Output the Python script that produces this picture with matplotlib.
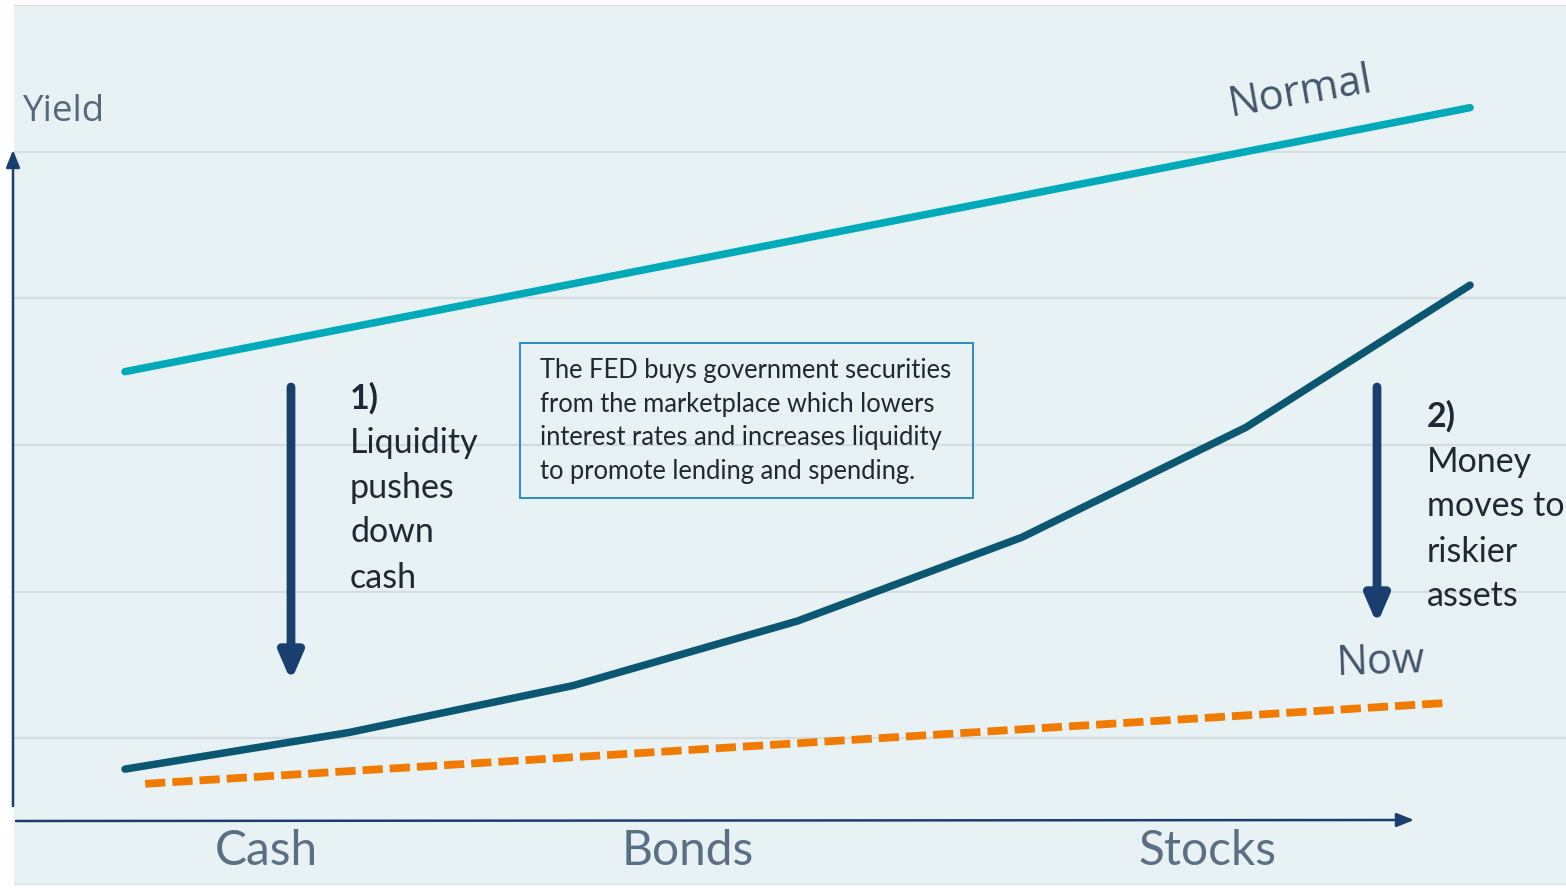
import matplotlib.pyplot as plt
from matplotlib.patches import Rectangle

# yield curve values, one point per step along the risk axis
steps = [0, 1, 2, 3, 4, 5, 6]
normal_yield = [3.50, 3.80, 4.10, 4.40, 4.70, 5.00, 5.30]
qe_yield = [0.79, 1.04, 1.36, 1.80, 2.37, 3.12, 4.09]
now_x = [0.09, 5.88]
now_yield = [0.69, 1.24]

categories = ['Cash', 'Bonds', 'Stocks']
category_pos = [0.63, 2.51, 4.83]

note = ('The FED buys government securities\n'
        'from the marketplace which lowers\n'
        'interest rates and increases liquidity\n'
        'to promote lending and spending.')
step1 = 'Liquidity\npushes\ndown\ncash'
step2 = 'Money\nmoves to\nriskier\nassets'

W, H = 1566, 888
L, R, T, B = 14, 1566, 5, 885

bg = '#e8f1f4'
grid_c = '#d5dde1'
navy = '#1a3f6f'
label_c = '#5b6f84'
dark_txt = '#1f2833'


def frac(x, y):
    # pixel position -> axes fraction
    return ((x - L) / (R - L), (B - y) / (B - T))


fig = plt.figure(figsize=(W / 100, H / 100), dpi=100)
ax = fig.add_axes([L / W, (H - B) / H, (R - L) / W, (B - T) / H])
ax.set_facecolor(bg)
ax.set_xlim(-0.4952, 6.428)
ax.set_ylim(0, 6)
ax.set_yticks(range(7))
ax.set_xticks([])
ax.grid(axis='y', color=grid_c, lw=1.6)
ax.tick_params(left=False, labelleft=False)
for s in ax.spines.values():
    s.set_visible(False)

ax.plot(steps, normal_yield, color='#00aab9', lw=5.4, solid_capstyle='round', zorder=3)
ax.plot(steps, qe_yield, color='#0b5670', lw=5.4, solid_capstyle='round',
        solid_joinstyle='round', zorder=3)
ax.plot(now_x, now_yield, color='#f07b00', lw=5.6, dashes=(2.6, 0.9),
        dash_capstyle='butt', zorder=3)

# axis arrows
ax.annotate('', xy=frac(13, 150), xytext=frac(13, 806), xycoords='axes fraction',
            arrowprops=dict(arrowstyle='-|>,head_length=0.75,head_width=0.3',
                            mutation_scale=14, lw=1.8, color=navy,
                            shrinkA=0, shrinkB=0), annotation_clip=False)
ax.annotate('', xy=frac(1414, 820), xytext=frac(16, 821), xycoords='axes fraction',
            arrowprops=dict(arrowstyle='-|>,head_length=0.75,head_width=0.3',
                            mutation_scale=14, lw=1.8, color=navy,
                            shrinkA=0, shrinkB=0), annotation_clip=False)

# step arrows
for x0, y0, y1 in [(291, 387, 681), (1377, 387, 624)]:
    ax.annotate('', xy=frac(x0, y1), xytext=frac(x0, y0), xycoords='axes fraction',
                arrowprops=dict(arrowstyle='-|>,head_length=1.15,head_width=0.5',
                                mutation_scale=14, lw=6.3, color=navy,
                                shrinkA=0, shrinkB=0))

ax.text(*frac(22, 112), 'Yield', transform=ax.transAxes, ha='left', va='center',
        fontsize=26.5, family='Open Sans', color='#56687b')
for c, xp in zip(categories, category_pos):
    ax.text(xp, 0.23, c, ha='center', va='center', fontsize=34.5,
            family='Lato', color=label_c)

ax.text(*frac(1301, 93), 'Normal', transform=ax.transAxes, ha='center', va='center',
        fontsize=30, family='Open Sans', color='#43566b', rotation=10,
        rotation_mode='anchor')
ax.text(*frac(1381, 662), 'Now', transform=ax.transAxes, ha='center', va='center',
        fontsize=30, family='Open Sans', color='#43566b', rotation=2,
        rotation_mode='anchor')

# callout box
bx0, by0 = frac(520, 498)
bx1, by1 = frac(973, 343)
ax.add_patch(Rectangle((bx0, by0), bx1 - bx0, by1 - by0, transform=ax.transAxes,
                       facecolor='none', edgecolor='#2b8ac6', lw=1.4, zorder=4))
ax.text(*frac(540, 421), note, transform=ax.transAxes, ha='left', va='center',
        fontsize=18.4, family='Lato', color=dark_txt, linespacing=1.44)

ax.text(*frac(350, 398), '1)', transform=ax.transAxes, ha='left', va='center',
        fontsize=24.5, family='Lato', weight='bold', color=dark_txt)
ax.text(*frac(350, 510), step1, transform=ax.transAxes, ha='left', va='center',
        fontsize=24.5, family='Lato', color=dark_txt, linespacing=1.50)
ax.text(*frac(1427, 416), '2)', transform=ax.transAxes, ha='left', va='center',
        fontsize=24.5, family='Lato', weight='bold', color=dark_txt)
ax.text(*frac(1427, 529), step2, transform=ax.transAxes, ha='left', va='center',
        fontsize=24.5, family='Lato', color=dark_txt, linespacing=1.50)

fig.savefig('out.png', dpi=100, facecolor='white')
